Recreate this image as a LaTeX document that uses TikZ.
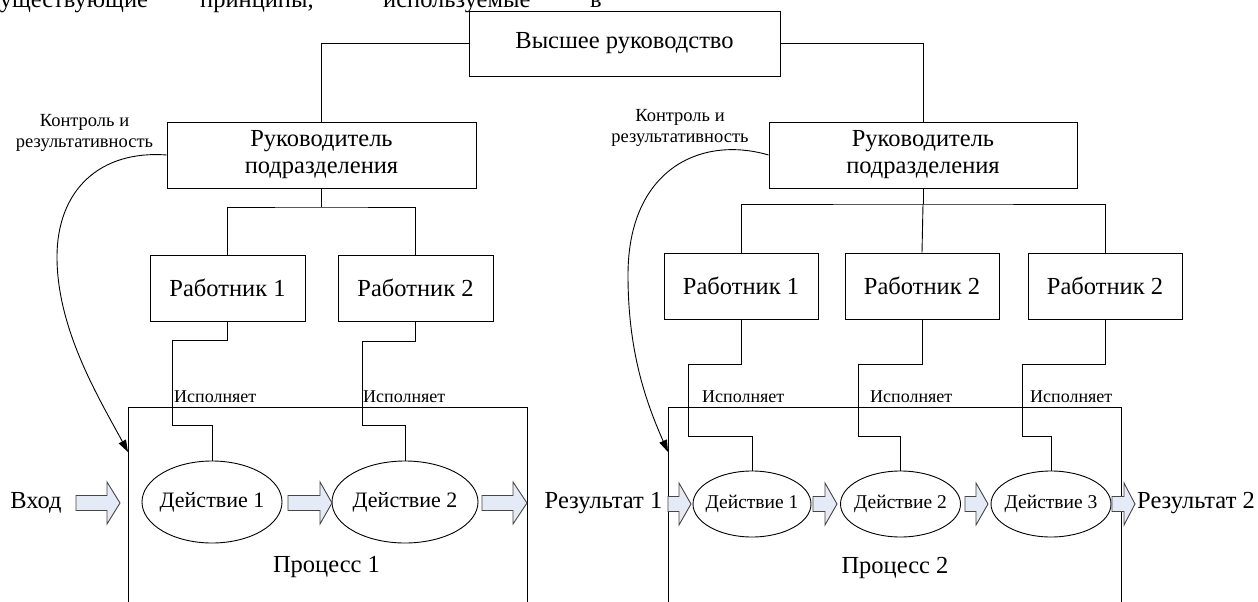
\documentclass[tikz,border=0pt]{standalone}
\usepackage{fontspec}
\setmainfont{Liberation Serif}
\usetikzlibrary{arrows.meta,shapes.geometric}
\definecolor{arrfill}{RGB}{228,234,246}
\definecolor{arrline}{RGB}{70,70,70}
\tikzset{
  box/.style={draw, line width=0.9pt, inner sep=0pt, align=center, font=\fontsize{24.5}{27}\selectfont},
  ell/.style={draw, ellipse, line width=0.9pt, inner sep=0pt},
  conn/.style={line width=0.9pt},
  smalltxt/.style={font=\fontsize{18}{21}\selectfont, inner sep=0pt},
  ctrltxt/.style={font=\fontsize{18.5}{21}\selectfont, inner sep=0pt, align=center},
  bigtxt/.style={font=\fontsize{24.5}{27}\selectfont, inner sep=0pt},
  acttxt/.style={font=\fontsize{22}{24}\selectfont, inner sep=0pt},
  acttxtsm/.style={font=\fontsize{19.5}{22}\selectfont, inner sep=0pt},
  fat/.style={fill=arrfill, draw=arrline, line width=0.9pt, line join=miter},
  ctrl/.style={line width=0.9pt, -{Triangle[length=12pt,width=8pt]}},
  procbox/.style={draw, line width=0.9pt, inner sep=0pt, anchor=north west},
}
\newcommand\fatarr[4]{\draw[fat] (#1,#4-7.5) -- (#2,#4-7.5) -- (#2,#4-21) -- (#3,#4) -- (#2,#4+21) -- (#2,#4+7.5) -- (#1,#4+7.5) -- cycle;}
\begin{document}
\begin{tikzpicture}[x=1pt,y=-1pt]
\useasboundingbox (0,0) rectangle (1258,602);
\clip (0,0) rectangle (1258,602);
\fill[white] (0,0) rectangle (1258,602);

% cut-off text line at the top
\node[bigtxt, anchor=base west] (t1) at (-11,8) {существующие};
\node[bigtxt, anchor=base west] (t2) at (200,8) {принципы,};
\node[bigtxt, anchor=base west] (t3) at (383,8) {используемые};
\node[bigtxt, anchor=base west] (t4) at (590,8) {в};

% boxes
\node[box, minimum width=311pt, minimum height=65pt] (top) at (624.5,43.5) {Высшее руководство};
\node[box, minimum width=309pt, minimum height=66pt] (lm) at (321.5,155) {Руководитель\\подразделения};
\node[box, minimum width=308pt, minimum height=66pt] (rm) at (923,155) {Руководитель\\подразделения};

\node[box, minimum width=155pt, minimum height=66pt] (lw1) at (227.5,288) {Работник 1};
\node[box, minimum width=155pt, minimum height=66pt] (lw2) at (415.5,288) {Работник 2};
\node[box, minimum width=154pt, minimum height=66pt] (rw1) at (741,286) {Работник 1};
\node[box, minimum width=154pt, minimum height=66pt] (rw2) at (922,286) {Работник 2};
\node[box, minimum width=154pt, minimum height=66pt] (rw3) at (1105,286) {Работник 2};

% process boxes
\node[procbox, minimum width=399pt, minimum height=230pt] (p1) at (128,407) {};
\node[procbox, minimum width=453pt, minimum height=230pt] (p2) at (668,407) {};

% ellipses
\node[ell, minimum width=140pt, minimum height=82pt] (e1) at (212,502) {};
\node[acttxt] at (e1) {Действие 1};
\node[ell, minimum width=146pt, minimum height=82pt] (e2) at (405,502) {};
\node[acttxt] at (e2) {Действие 2};
\node[ell, minimum width=118pt, minimum height=66pt] (d1) at (752,504) {};
\node[acttxtsm] at (d1) {Действие 1};
\node[ell, minimum width=120pt, minimum height=66pt] (d2) at (900.5,504) {};
\node[acttxtsm] at (d2) {Действие 2};
\node[ell, minimum width=120pt, minimum height=66pt] (d3) at (1051,504) {};
\node[acttxtsm] at (d3) {Действие 3};

% tree connectors
\draw[conn] (top.west) -| (lm.north);
\draw[conn] (top.east) -| (rm.north);
\coordinate (lj) at (lm.south |- 0,207);
\draw[conn] (lm.south) -- (lj);
\draw[conn] (lw1.north) |- (lj) -| (lw2.north);
\coordinate (rj) at (rm.south |- 0,204);
\draw[conn] (rm.south) -- (rj);
\draw[conn] (rw1.north) |- (rj) -| (rw3.north);
\draw[conn] (rj) -- (rw2.north);

% worker -> action connectors
\draw[conn] (lw1.south) |- (172,340) |- (e1.north |- 0,425) -- (e1.north);
\draw[conn] (lw2.south) |- (362,341) |- (e2.north |- 0,425) -- (e2.north);
\draw[conn] (rw1.south) |- (688,364) |- (d1.north |- 0,436) -- (d1.north);
\draw[conn] (rw2.south) |- (858,364) |- (d2.north |- 0,436) -- (d2.north);
\draw[conn] (rw3.south) |- (1022,364) |- (d3.north |- 0,436) -- (d3.north);

% labels
\node[smalltxt, anchor=west] (x1) at (174,397) {Исполняет};
\node[smalltxt, anchor=west] (x2) at (363,397) {Исполняет};
\node[smalltxt, anchor=west] (x3) at (702,397) {Исполняет};
\node[smalltxt, anchor=west] (x4) at (870,397) {Исполняет};
\node[smalltxt, anchor=west] (x5) at (1030,397) {Исполняет};

\node[ctrltxt] (k1) at (84.5,132.5) {Контроль и\\результативность};
\node[ctrltxt] (k2) at (680,127.5) {Контроль и\\результативность};

% control curves
\coordinate (c1) at (p1.north west |- 0,452);
\coordinate (c2) at (p2.north west |- 0,452);
\draw[ctrl] (lm.west) .. controls (100,150) and (57,190) .. (57,257) .. controls (57,330) and (100,400) .. (c1);
\draw[ctrl] (rm.west) .. controls (700,135) and (628,170) .. (628,275) .. controls (628,350) and (645,400) .. (c2);

% fat arrows
\fatarr{76}{107}{120}{503}
\fatarr{288}{320}{332}{503}
\fatarr{482}{513}{527}{503}
\fatarr{668}{679}{691}{504}
\fatarr{813}{825}{837}{504}
\fatarr{965}{976}{988}{504}
\fatarr{1112}{1124}{1135}{504}

% process texts
\node[bigtxt] (in) at (36,503) {Вход};
\node[bigtxt] (r1) at (603.5,503) {Результат 1};
\node[bigtxt, anchor=west] (r2) at (1137,503) {Результат 2};
\node[bigtxt] (pp1) at (326.5,567) {Процесс 1};
\node[bigtxt] (pp2) at (895,568) {Процесс 2};
\end{tikzpicture}
\end{document}
